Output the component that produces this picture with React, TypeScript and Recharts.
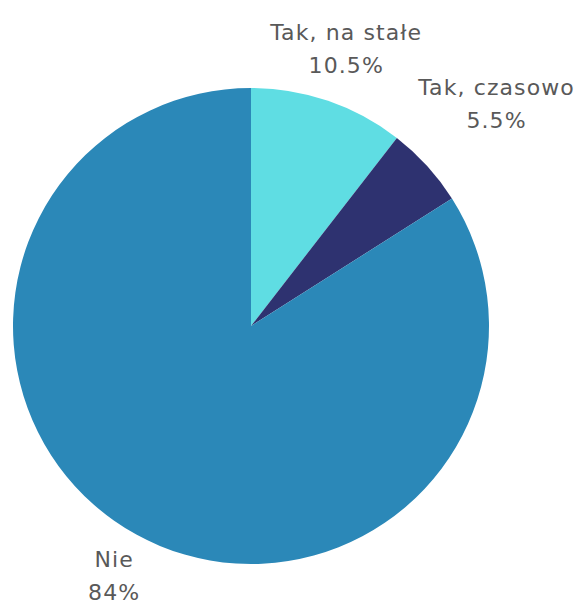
import React from 'react';
import { PieChart, Pie, Cell } from 'recharts';

const categories = ['Tak, na stałe', 'Tak, czasowo', 'Nie'];
const shares = [10.5, 5.5, 84];
const shareLabels = ['10.5%', '5.5%', '84%'];
const colors = ['#5fdde3', '#2e3270', '#2b88b8'];

const data = categories.map((name, i) => ({ name, value: shares[i] }));

// distance of each label's centre from the pie centre
const labelGap = [56, 94, 46];

const RADIAN = Math.PI / 180;

const renderLabel = (props: any) => {
  const { cx, cy, midAngle, outerRadius, index } = props;
  const r = outerRadius + labelGap[index];
  const x = cx + r * Math.cos(-midAngle * RADIAN);
  const y = cy + r * Math.sin(-midAngle * RADIAN);
  return (
    <text
      x={x}
      y={y}
      textAnchor="middle"
      fill="#595959"
      fontFamily="'DejaVu Sans', sans-serif"
      fontSize={22}
      letterSpacing={1.1}
    >
      <tspan x={x} dy={-8}>{categories[index]}</tspan>
      <tspan x={x} dy={33}>{shareLabels[index]}</tspan>
    </text>
  );
};

export default function App() {
  return (
    <div style={{ position: 'absolute', left: 0, top: 0, width: 585, height: 606, background: '#fff' }}>
      <PieChart width={585} height={606}>
        <Pie
          data={data}
          dataKey="value"
          cx={246}
          cy={321}
          outerRadius={238}
          startAngle={90}
          endAngle={-270}
          stroke="none"
          label={renderLabel}
          labelLine={false}
          isAnimationActive={false}
        >
          {data.map((d, i) => (
            <Cell key={d.name} fill={colors[i]} />
          ))}
        </Pie>
      </PieChart>
    </div>
  );
}
